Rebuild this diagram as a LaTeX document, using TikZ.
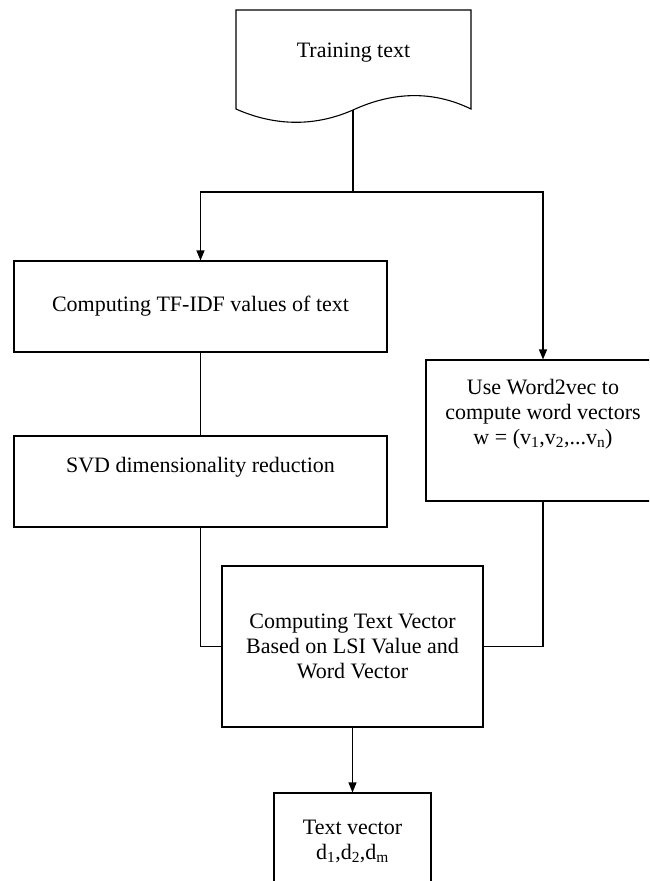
\documentclass[tikz,border=0pt]{standalone}
\usepackage{fontspec}
\setmainfont{Liberation Serif}
\usetikzlibrary{arrows.meta}

\tikzset{
  flowbox/.style={draw, rectangle, line width=1.1pt, inner sep=0pt},
  flowtext/.style={align=center, inner sep=0pt, font=\fontsize{22}{25}\selectfont},
  link/.style={line width=1.1pt},
  arrowlink/.style={link, -{Triangle[length=10pt,width=8pt]}}
}

\begin{document}
\begin{tikzpicture}[x=1pt, y=-1pt]
  \useasboundingbox (0,0) rectangle (649,881);
  \clip (0,0) rectangle (649,881);

  % document-shaped source
  \draw[line width=1.1pt] (236,10) -- (471,10) -- (471,109)
    .. controls (432,90) and (392,92) .. (353,110)
    .. controls (312,128) and (272,125) .. (236,109) -- cycle;
  \node[flowtext] (train) at (353.5,53) {Training text};
  \coordinate (docbot) at (353,110);
  \coordinate (split) at (353,192);

  % processing boxes
  \node[flowbox, minimum width=373pt, minimum height=91pt] (tfidf) at (200.5,306.5) {};
  \node[flowtext] (tfidftext) at (tfidf.center) {Computing TF-IDF values of text};

  \node[flowbox, minimum width=373pt, minimum height=91pt] (svd) at (200.5,481.5) {};
  \node[flowtext] (svdtext) at (200.5,467) {SVD dimensionality reduction};

  \node[flowbox, minimum width=234pt, minimum height=141pt] (w2v) at (543,430.5) {};
  \node[flowtext] (w2vtext) at (543,414) {Use Word2vec to\\compute word vectors\\w = (v\textsubscript{1},v\textsubscript{2},...v\textsubscript{n})};

  \node[flowbox, minimum width=261pt, minimum height=161pt] (comb) at (352.5,646.5) {};
  \node[flowtext] (combtext) at (comb.center) {Computing Text Vector\\Based on LSI Value and\\Word Vector};

  \node[flowbox, minimum width=157pt, minimum height=110pt] (out) at (352.5,848) {};
  \node[flowtext] (outtext) at (352.5,841) {Text vector\\d\textsubscript{1},d\textsubscript{2},d\textsubscript{m}};

  % connectors
  \draw[link] (docbot) -- (split);
  \draw[arrowlink] (split) -| (tfidf.north);
  \draw[arrowlink] (split) -| (w2v.north);
  \draw[link] (tfidf.south) -- (svd.north);
  \draw[link] (svd.south) |- (comb.west);
  \draw[link] (w2v.south) |- (comb.east);
  \draw[arrowlink] (comb.south) -- (out.north);
\end{tikzpicture}
\end{document}
